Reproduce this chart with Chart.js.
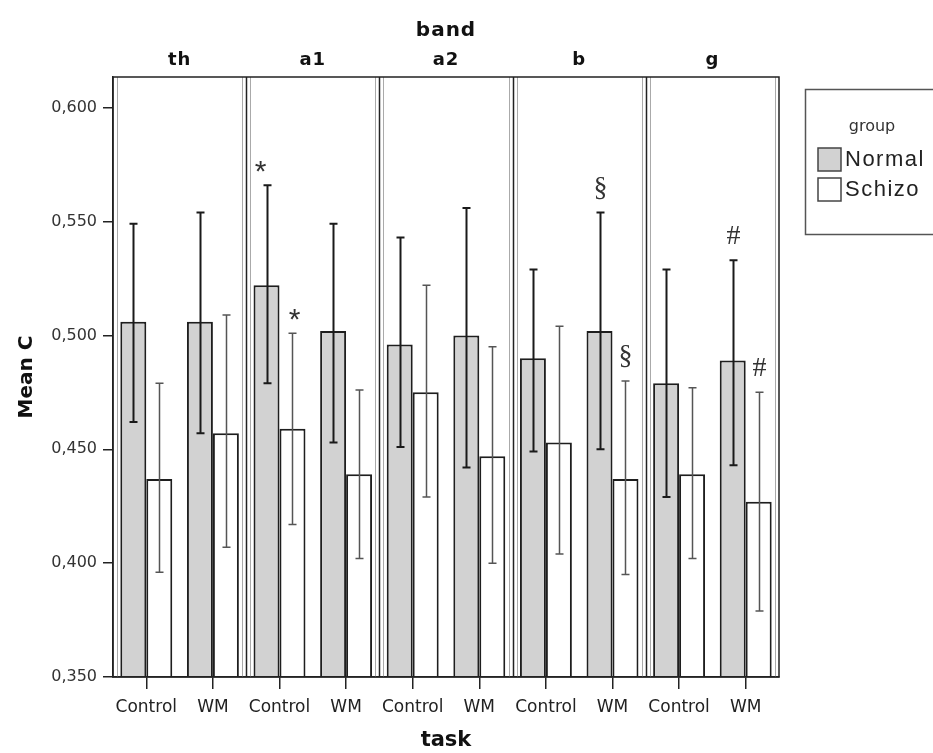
<!DOCTYPE html>
<html>
<head>
<meta charset="utf-8">
<script src="https://cdn.jsdelivr.net/npm/chart.js@4/dist/chart.umd.min.js"></script>
<style>
  html, body { margin: 0; padding: 0; background: #fff; }
</style>
</head>
<body>
<canvas id="myChart" width="933" height="753"></canvas>
<script>
// values
const bands = ['th', 'a1', 'a2', 'b', 'g'];
const tasks = ['Control', 'WM'];
const groups = ['Normal', 'Schizo'];

const normalMean = [0.506, 0.506, 0.522, 0.502, 0.496, 0.500, 0.490, 0.502, 0.479, 0.489];
const normalHigh = [0.549, 0.554, 0.566, 0.549, 0.543, 0.556, 0.529, 0.554, 0.529, 0.533];
const normalLow  = [0.462, 0.457, 0.479, 0.453, 0.451, 0.442, 0.449, 0.450, 0.429, 0.443];

const schizoMean = [0.437, 0.457, 0.459, 0.439, 0.475, 0.447, 0.453, 0.437, 0.439, 0.427];
const schizoHigh = [0.479, 0.509, 0.501, 0.476, 0.522, 0.495, 0.504, 0.480, 0.477, 0.475];
const schizoLow  = [0.396, 0.407, 0.417, 0.402, 0.429, 0.400, 0.404, 0.395, 0.402, 0.379];

const normalMarks = ['', '', '*', '', '', '', '', '§', '', '#'];
const schizoMarks = ['', '', '*', '', '', '', '', '§', '', '#'];

const yTicks = [0.350, 0.400, 0.450, 0.500, 0.550, 0.600];

const labels = bands.flatMap(() => tasks);

function edge(x, i, a) {
    if (i === 0) return a.left;
    if (i === labels.length) return a.right;
    return (x.getPixelForValue(i - 1) + x.getPixelForValue(i)) / 2;
}

const decor = {
    id: 'decor',
    beforeDatasetsDraw(chart) {
        const {ctx, chartArea: a, scales: {x}} = chart;
        ctx.save();
        // faint inner edges of each band panel
        ctx.strokeStyle = '#aaa';
        ctx.lineWidth = 1;
        for (let b = 0; b < bands.length; b++) {
            const l = Math.round(edge(x, 2 * b, a)), r = Math.round(edge(x, 2 * b + 2, a));
            ctx.beginPath();
            ctx.moveTo(l + 4.5, a.top); ctx.lineTo(l + 4.5, a.bottom);
            ctx.moveTo(r - 3.5, a.top); ctx.lineTo(r - 3.5, a.bottom);
            ctx.stroke();
        }
        ctx.restore();
    },
    afterDatasetsDraw(chart) {
        const {ctx, scales: {y}} = chart;
        ctx.save();
        chart.data.datasets.forEach((ds, di) => {
            const meta = chart.getDatasetMeta(di);
            meta.data.forEach((bar, i) => {
                const cx = Math.round(bar.x) + 0.5;
                const yh = y.getPixelForValue(ds.errHigh[i]);
                const yl = y.getPixelForValue(ds.errLow[i]);
                ctx.strokeStyle = di === 0 ? '#1a1a1a' : '#555';
                ctx.lineWidth = di === 0 ? 2 : 1.5;
                ctx.beginPath();
                ctx.moveTo(cx, yh); ctx.lineTo(cx, yl);
                ctx.moveTo(cx - 4, yh); ctx.lineTo(cx + 4, yh);
                ctx.moveTo(cx - 4, yl); ctx.lineTo(cx + 4, yl);
                ctx.stroke();
                const m = ds.marks[i];
                if (m) {
                    ctx.fillStyle = '#333';
                    ctx.textAlign = 'center';
                    ctx.textBaseline = 'middle';
                    if (m === '*') {
                        ctx.font = '30px "Liberation Sans"';
                        ctx.fillText(m, cx - (di === 0 ? 7 : -2), yh - 12);
                    } else {
                        ctx.font = '28px "Liberation Serif"';
                        ctx.fillText(m, cx, yh - 24);
                    }
                }
            });
        });
        ctx.restore();
    },
    afterDraw(chart) {
        const {ctx, chartArea: a, scales: {x}} = chart;
        ctx.save();
        // band dividers and outer frame
        ctx.strokeStyle = '#222';
        ctx.lineWidth = 1.5;
        for (let b = 1; b < bands.length; b++) {
            const px = Math.round(edge(x, 2 * b, a)) + 0.5;
            ctx.beginPath();
            ctx.moveTo(px, a.top); ctx.lineTo(px, a.bottom);
            ctx.stroke();
        }
        ctx.strokeRect(a.left, a.top, a.right - a.left, a.bottom - a.top);

        // band header
        ctx.fillStyle = '#111';
        ctx.textAlign = 'center';
        ctx.textBaseline = 'alphabetic';
        ctx.letterSpacing = '1px';
        ctx.font = 'bold 20px "DejaVu Sans"';
        ctx.fillText('band', (a.left + a.right) / 2, 36);
        ctx.font = 'bold 18px "DejaVu Sans"';
        bands.forEach((b, i) => {
            const cx = (edge(x, 2 * i, a) + edge(x, 2 * i + 2, a)) / 2;
            ctx.fillText(b, cx, 65);
        });

        // legend box
        ctx.letterSpacing = '0px';
        ctx.strokeStyle = '#555';
        ctx.lineWidth = 1.5;
        ctx.strokeRect(805.5, 89.5, 140, 145);
        ctx.fillStyle = '#333';
        ctx.font = '16px "DejaVu Sans"';
        ctx.textAlign = 'center';
        ctx.textBaseline = 'middle';
        ctx.fillText('group', 872, 127);
        ctx.textAlign = 'left';
        ctx.font = '22px "Liberation Sans"';
        ctx.letterSpacing = '1.5px';
        chart.data.datasets.forEach((ds, i) => {
            const top = 148 + i * 30;
            ctx.fillStyle = ds.backgroundColor;
            ctx.fillRect(818, top, 23, 23);
            ctx.strokeStyle = '#444';
            ctx.lineWidth = 1.5;
            ctx.strokeRect(818, top, 23, 23);
            ctx.fillStyle = '#222';
            ctx.fillText(ds.label, 845, top + 12);
        });
        ctx.restore();
    }
};

const ctx = document.getElementById('myChart');
new Chart(ctx, {
    type: 'bar',
    data: {
        labels: labels,
        datasets: [{
            label: groups[0],
            data: normalMean,
            errHigh: normalHigh,
            errLow: normalLow,
            marks: normalMarks,
            base: yTicks[0],
            backgroundColor: '#d2d2d2',
            borderColor: '#1e1e1e',
            borderWidth: 2,
            categoryPercentage: 0.78,
            barPercentage: 1.0
        }, {
            label: groups[1],
            data: schizoMean,
            errHigh: schizoHigh,
            errLow: schizoLow,
            marks: schizoMarks,
            base: yTicks[0],
            backgroundColor: '#ffffff',
            borderColor: '#1e1e1e',
            borderWidth: 2,
            categoryPercentage: 0.78,
            barPercentage: 1.0
        }]
    },
    options: {
        responsive: false,
        animation: false,
        layout: { padding: { top: 77, right: 154, left: 0, bottom: 0 } },
        plugins: {
            legend: { display: false },
            tooltip: { enabled: false }
        },
        scales: {
            x: {
                afterFit: s => { s.height = 76; },
                grid: { drawOnChartArea: false, offset: false, tickLength: 12, color: '#222', lineWidth: 1.5 },
                border: { color: '#222', width: 1.5 },
                ticks: {
                    autoSkip: false,
                    maxRotation: 0,
                    padding: 8,
                    color: '#222',
                    font: { family: 'DejaVu Sans', size: 17 }
                },
                title: {
                    display: true,
                    text: 'task',
                    color: '#111',
                    font: { family: 'DejaVu Sans', size: 21, weight: 'bold' },
                    padding: { top: 0, bottom: 0 }
                }
            },
            y: {
                min: 0.35,
                max: 0.6135,
                afterFit: s => { s.width = 113; },
                afterBuildTicks: s => { s.ticks = yTicks.map(v => ({ value: v })); },
                grid: { drawOnChartArea: false, tickLength: 10, color: '#222', lineWidth: 1.5 },
                border: { color: '#222', width: 1.5 },
                ticks: {
                    padding: 6,
                    color: '#333',
                    font: { family: 'DejaVu Sans', size: 16 },
                    callback: v => v.toFixed(3).replace('.', ',')
                },
                title: {
                    display: true,
                    text: 'Mean C',
                    color: '#111',
                    font: { family: 'DejaVu Sans', size: 20, weight: 'bold' },
                    padding: { top: 15, bottom: 0 }
                }
            }
        }
    },
    plugins: [decor]
});
</script>
</body>
</html>
